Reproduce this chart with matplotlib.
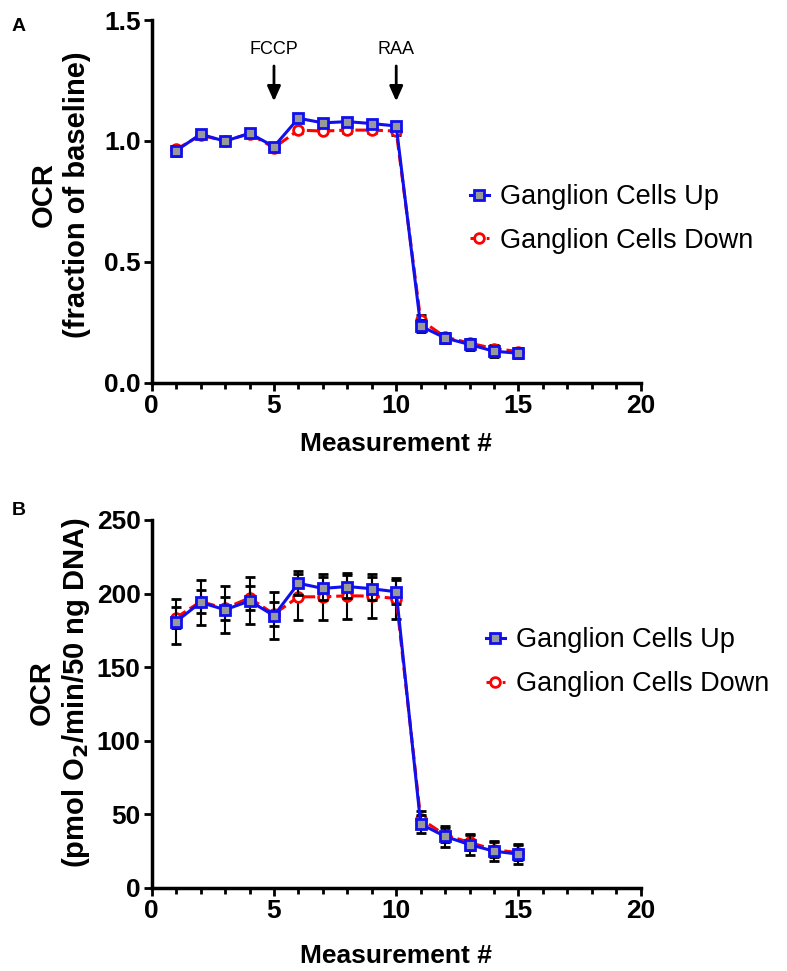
import matplotlib
matplotlib.use("Agg")
import matplotlib.pyplot as plt
from matplotlib.ticker import MultipleLocator, FormatStrFormatter
from matplotlib.lines import Line2D

plt.rcParams['font.family'] = ['Liberation Sans', 'DejaVu Sans']

measurement = list(range(1, 16))

# Panel A: OCR fraction of baseline
a_up = [0.96, 1.028, 0.999, 1.032, 0.977, 1.094, 1.075, 1.080, 1.072, 1.062,
        0.235, 0.186, 0.159, 0.131, 0.123]
a_up_err = [0.02, 0.012, 0.012, 0.012, 0.012, 0.012, 0.012, 0.012, 0.012, 0.015,
            0.025, 0.02, 0.022, 0.022, 0.02]
a_down = [0.965, 1.024, 1.0, 1.03, 0.972, 1.045, 1.041, 1.045, 1.045, 1.041,
          0.26, 0.19, 0.165, 0.142, 0.13]
a_down_err = [0.015, 0.01, 0.01, 0.01, 0.01, 0.01, 0.01, 0.01, 0.01, 0.015,
              0.02, 0.015, 0.015, 0.015, 0.015]

# Panel B: OCR pmol O2/min/50 ng DNA
b_up = [181, 194, 189, 195, 185, 207, 203.5, 204.8, 203.3, 201.2,
        43.5, 35, 29.5, 25, 23]
b_up_err = [15, 15.5, 16, 16, 16, 8, 8, 8, 8, 8,
            6, 7, 7, 7, 7]
b_down = [183.7, 194.5, 190, 197, 186, 197.8, 197.8, 198.5, 198.3, 196.6,
          47, 36, 31, 26, 24]
b_down_err = [7, 8, 8, 8, 8, 15.5, 15.5, 15.5, 15, 14,
              5, 5, 5, 5, 5]

labels = ["Ganglion Cells Up", "Ganglion Cells Down"]
injections = ["FCCP", "RAA"]
injection_x = [5, 10]

BLUE = '#1010ee'
up_style = dict(color=BLUE, ls='-', lw=2.2, marker='s', ms=7, mfc='#999999', mec=BLUE, mew=2)
down_style = dict(color='red', ls='--', lw=2.2, marker='o', ms=7, mfc='white', mec='red', mew=2)
err_style = dict(ecolor='black', elinewidth=1.5, capsize=3.5, capthick=1.5)

fig = plt.figure(figsize=(7.87, 9.71), dpi=100)
axA = fig.add_axes([0.1928, 0.6056, 0.6213, 0.3738])
axB = fig.add_axes([0.1928, 0.0855, 0.6213, 0.3790])

def draw(ax, up, up_err, down, down_err, labelpad):
    ax.errorbar(measurement, down, yerr=down_err, zorder=2, **down_style, **err_style)
    ax.errorbar(measurement, up, yerr=up_err, zorder=3, **up_style, **err_style)
    for s in ['top', 'right']:
        ax.spines[s].set_visible(False)
    for s in ['left', 'bottom']:
        ax.spines[s].set_linewidth(2.5)
    ax.set_xlim(0, 20)
    ax.xaxis.set_major_locator(MultipleLocator(5))
    ax.xaxis.set_minor_locator(MultipleLocator(1))
    ax.tick_params(axis='both', which='major', width=2, length=6, labelsize=19, direction='out', pad=2)
    ax.tick_params(axis='x', which='minor', width=2, length=4)
    ax.set_xlabel("Measurement #", fontsize=19, fontweight='bold', labelpad=labelpad)

def style_ticks(ax):
    for lab in ax.get_xticklabels() + ax.get_yticklabels():
        lab.set_fontweight('bold')

handles = [Line2D([], [], **up_style), Line2D([], [], **down_style)]
leg_kw = dict(loc='center left', bbox_transform=fig.transFigure, frameon=False, fontsize=19.5,
              handlelength=0.7, handletextpad=0.4, labelspacing=0.65, borderpad=0, borderaxespad=0)

draw(axA, a_up, a_up_err, a_down, a_down_err, 10)
axA.set_ylim(0, 1.5)
axA.yaxis.set_major_locator(MultipleLocator(0.5))
axA.yaxis.set_major_formatter(FormatStrFormatter('%.1f'))
style_ticks(axA)
axA.set_ylabel("OCR\n(fraction of baseline)", fontsize=21, fontweight='bold')
axA.yaxis.set_label_coords(-0.125, 0.52)
axA.legend(handles, labels, bbox_to_anchor=(0.597, 0.7745), **leg_kw)
for name, xv in zip(injections, injection_x):
    axA.annotate("", xy=(xv, 1.164), xytext=(xv, 1.31),
                 arrowprops=dict(arrowstyle='-|>,head_width=0.4,head_length=0.9', color='black', lw=2,
                                 shrinkA=0, shrinkB=0))
    axA.text(xv, 1.38, name, ha='center', va='center', fontsize=13)

draw(axB, b_up, b_up_err, b_down, b_down_err, 15)
axB.set_ylim(0, 250)
axB.yaxis.set_major_locator(MultipleLocator(50))
style_ticks(axB)
axB.set_ylabel("OCR\n(pmol O$_\\mathbf{2}$/min/50 ng DNA)", fontsize=21, fontweight='bold')
axB.yaxis.set_label_coords(-0.122, 0.53)
axB.legend(handles, labels, bbox_to_anchor=(0.6175, 0.318), **leg_kw)

fig.text(0.015, 0.973, "A", fontsize=14, fontweight='bold', va='center')
fig.text(0.015, 0.474, "B", fontsize=14, fontweight='bold', va='center')

fig.savefig("out.png", dpi=100)
